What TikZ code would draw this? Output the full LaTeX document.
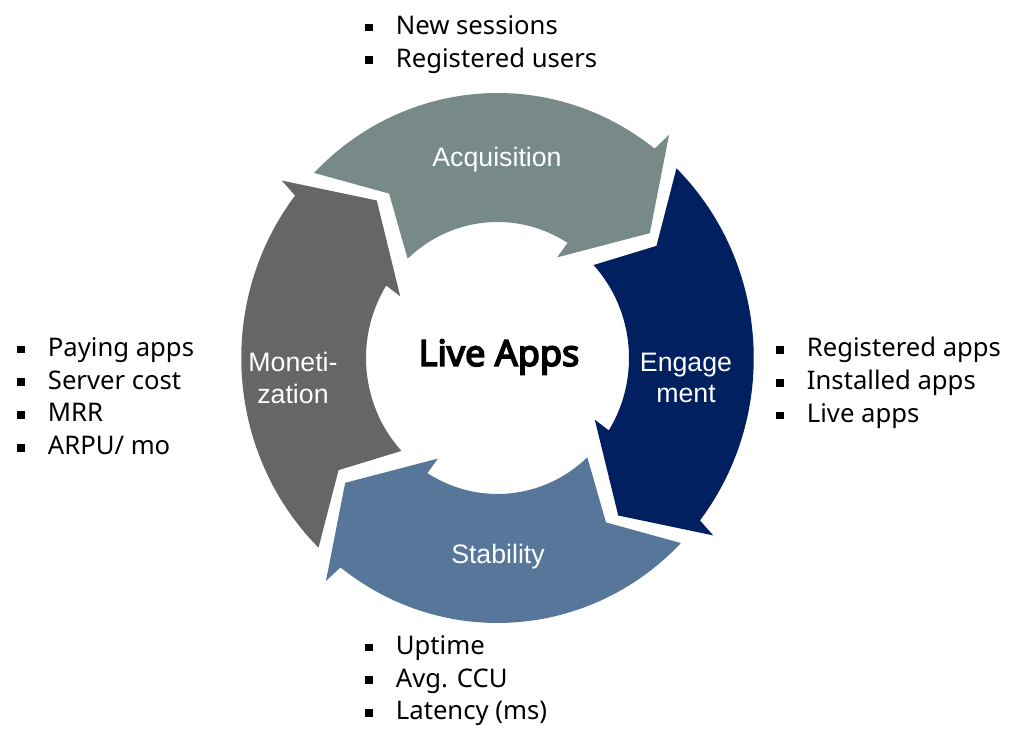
\documentclass[tikz,border=0pt]{standalone}
\usepackage{fontspec}
\setmainfont{Noto Sans}
\newfontfamily\arialfont{Liberation Sans}
\newfontfamily\livefont[FakeBold=4.5]{Noto Sans}

\definecolor{acqgray}{HTML}{778A88}
\definecolor{engnavy}{HTML}{002060}
\definecolor{stbblue}{HTML}{567799}
\definecolor{mongray}{HTML}{666666}

% one curved arrow of the cycle, drawn for the top position and then turned
\newcommand{\cyclearrow}[2]{%
  \begin{scope}[rotate=#1]
    \fill[#2] (135.7:265) arc[start angle=135.7, end angle=52.2, radius=265]
      -- (51.5:285) -- (38.4:201) -- (58.5:118) -- (57.8:136)
      arc[start angle=57.8, end angle=133.1, radius=136]
      -- (124.3:199) -- cycle;
  \end{scope}}
\newcommand{\sqbullet}{\makebox[17.4pt][l]{\raisebox{1.8pt}{\rule{4.3pt}{4.3pt}}}}

\begin{document}
\begin{tikzpicture}[x=0.02cm, y=0.02cm,
    segtext/.style={text=white, align=center, inner sep=0pt,
      font=\arialfont\fontsize{15.2}{18}\selectfont},
    itemlist/.style={anchor=north west, inner sep=0pt, align=left,
      font=\fontsize{14.6}{18.7}\selectfont}]

  \useasboundingbox (0,0) rectangle (1024,742);

  % the four arrows
  \begin{scope}[shift={(497.5,384)}, xscale=0.967]
    \cyclearrow{0}{acqgray}
    \cyclearrow{-90}{engnavy}
    \cyclearrow{-180}{stbblue}
    \cyclearrow{-270}{mongray}
  \end{scope}

  % texts in the ring
  \node[font=\livefont\fontsize{20.5}{24}\selectfont] (live) at (499,385) {Live Apps};
  \node[segtext] (acq) at (497,582) {Acquisition};
  \node[segtext] (eng) at (686,364) {Engage\\ment};
  \node[segtext] (stb) at (498,185) {Stability};
  \node[segtext] (mon) at (293,364) {Moneti-\\zation};

  % metrics
  \node[itemlist] (acqlist) at (365,727) {\sqbullet New sessions\\ \sqbullet Registered users};
  \node[itemlist] (englist) at (776,405) {\sqbullet Registered apps\\ \sqbullet Installed apps\\ \sqbullet Live apps};
  \node[itemlist] (stblist) at (365,107) {\sqbullet Uptime\\ \sqbullet Avg. CCU\\ \sqbullet Latency (ms)};
  \node[itemlist] (monlist) at (17,405) {\sqbullet Paying apps\\ \sqbullet Server cost\\ \sqbullet MRR\\ \sqbullet ARPU/ mo};

\end{tikzpicture}
\end{document}
